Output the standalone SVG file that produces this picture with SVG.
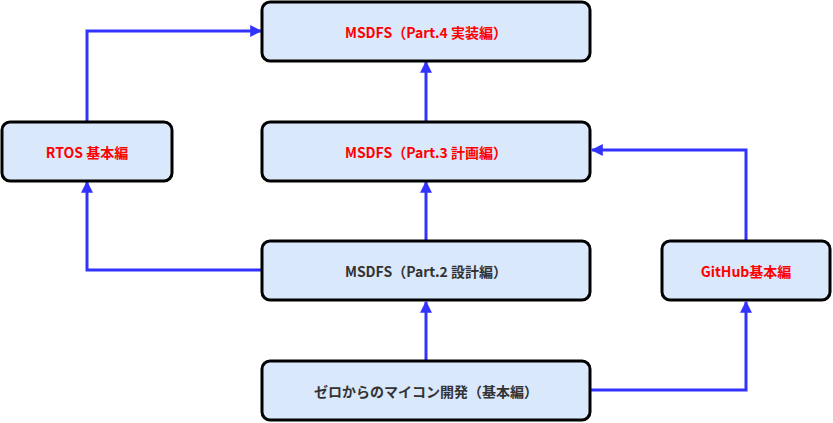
<svg xmlns="http://www.w3.org/2000/svg" width="833" height="423" viewBox="0 0 833 423">
<style>
.box{fill:#dae8fc;stroke:#000;stroke-width:3}
.t{font-family:"Noto Sans CJK JP","Noto Sans",sans-serif;font-size:14px;font-weight:bold;text-anchor:middle;dominant-baseline:central}
.red{fill:#ff0000}
.dark{fill:#333333}
.c{fill:none;stroke:#3333ff;stroke-width:3}
</style>
<defs>
<marker id="a" viewBox="0 0 10 10" refX="9" refY="5" markerWidth="4" markerHeight="4" orient="auto" markerUnits="strokeWidth">
<path d="M0,0 L10,5 L0,10 Z" fill="#3333ff"/>
</marker>
</defs>
<g id="connectors">
<path class="c" d="M426,361 V302" marker-end="url(#a)"/>
<path class="c" d="M590,390 H746 V302" marker-end="url(#a)"/>
<path class="c" d="M746,241 V150 H592" marker-end="url(#a)"/>
<path class="c" d="M426,241 V182" marker-end="url(#a)"/>
<path class="c" d="M262,270 H87 V182" marker-end="url(#a)"/>
<path class="c" d="M87,122 V31 H261" marker-end="url(#a)"/>
<path class="c" d="M426,122 V62" marker-end="url(#a)"/>
</g>
<g id="part4"><rect class="box" x="262" y="2" width="328" height="59" rx="8"/><text class="t red" x="426" y="32">MSDFS（Part.4 実装編）</text></g>
<g id="rtos"><rect class="box" x="2" y="122" width="170" height="59" rx="8"/><text class="t red" x="87" y="152">RTOS 基本編</text></g>
<g id="part3"><rect class="box" x="262" y="122" width="328" height="59" rx="8"/><text class="t red" x="426" y="152">MSDFS（Part.3 計画編）</text></g>
<g id="part2"><rect class="box" x="262" y="241" width="328" height="59" rx="8"/><text class="t dark" x="426" y="271">MSDFS（Part.2 設計編）</text></g>
<g id="github"><rect class="box" x="662" y="241" width="168" height="59" rx="8"/><text class="t red" x="746" y="271">GitHub基本編</text></g>
<g id="zero"><rect class="box" x="262" y="361" width="328" height="59" rx="8"/><text class="t dark" x="426" y="391">ゼロからのマイコン開発（基本編）</text></g>
</svg>
